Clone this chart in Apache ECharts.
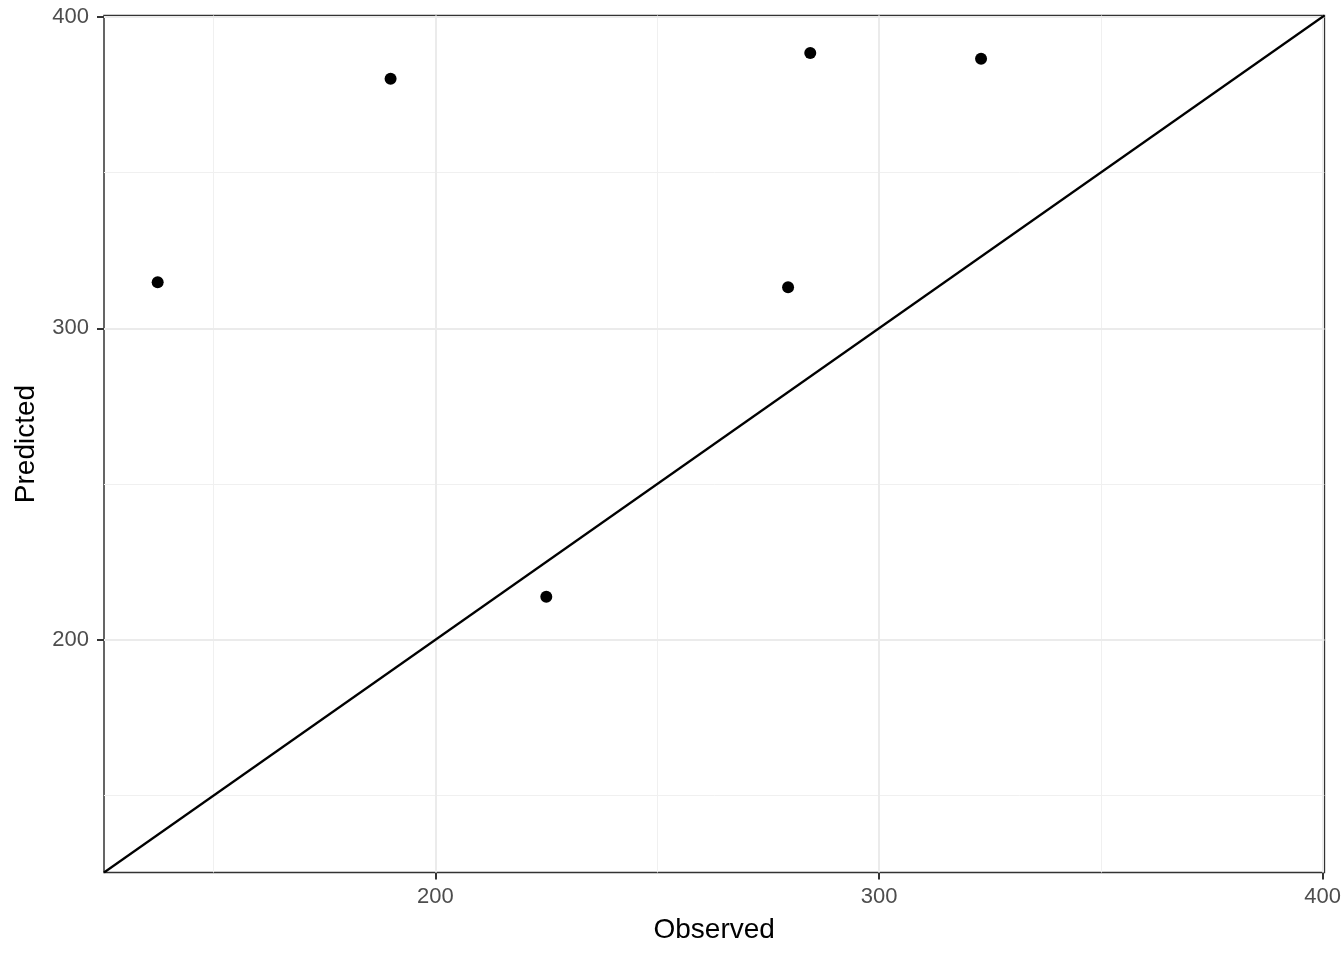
<!DOCTYPE html>
<html>
<head>
<meta charset="utf-8">
<script src="https://cdn.jsdelivr.net/npm/echarts@6/dist/echarts.min.js"></script>
<style>
  html, body { margin: 0; padding: 0; background: #fff; }
  #chart { width: 1344px; height: 960px; }
</style>
</head>
<body>
<div id="chart"></div>
<script>
// observed vs predicted
var observed  = [137.4, 189.9, 225.0, 279.5, 284.5, 323.0];
var predicted = [314.8, 380.1, 213.8, 313.2, 388.4, 386.5];

var axisMin = 125.3;
var axisMax = 400.4;
var majorTicks = [200, 300, 400];
var minorTicks = [150, 250, 350];

var points = [];
for (var i = 0; i < observed.length; i++) {
  points.push([observed[i], predicted[i]]);
}

var gridLines = [];
minorTicks.forEach(function (v) {
  gridLines.push({ xAxis: v, lineStyle: { color: '#f0f0f0', width: 1, type: 'solid' } });
  gridLines.push({ yAxis: v, lineStyle: { color: '#f0f0f0', width: 1, type: 'solid' } });
});
majorTicks.forEach(function (v) {
  gridLines.push({ xAxis: v, lineStyle: { color: '#ebebeb', width: 2, type: 'solid' } });
  gridLines.push({ yAxis: v, lineStyle: { color: '#ebebeb', width: 2, type: 'solid' } });
});

var font = 'Liberation Sans, Arial, Helvetica, sans-serif';

function makeAxis(name, gap, labelMargin) {
  return {
    type: 'value',
    min: axisMin,
    max: axisMax,
    name: name,
    nameLocation: 'middle',
    nameGap: gap,
    nameTextStyle: { color: '#000', fontSize: 28, fontFamily: font },
    axisLine: { show: false },
    axisTick: { show: true, customValues: majorTicks, length: 7, lineStyle: { color: '#333', width: 2 } },
    axisLabel: { customValues: majorTicks, color: '#4d4d4d', fontSize: 22, fontFamily: font, margin: labelMargin },
    splitLine: { show: false }
  };
}

var chart = echarts.init(document.getElementById('chart'));
var option = {
  backgroundColor: '#fff',
  animation: false,
  grid: {
    left: 104, right: 16.5, top: 15.5, bottom: 87.5,
    show: true, borderColor: '#333', borderWidth: 1.5, backgroundColor: 'transparent'
  },
  xAxis: makeAxis('Observed', 44, 13),
  yAxis: makeAxis('Predicted', 64, 15),
  series: [
    {
      type: 'line',
      data: [],
      silent: true,
      z: 1,
      markLine: {
        silent: true,
        z: 1,
        symbol: 'none',
        label: { show: false },
        emphasis: { disabled: true },
        data: gridLines
      }
    },
    {
      type: 'line',
      data: [[axisMin, axisMin], [axisMax, axisMax]],
      symbol: 'none',
      silent: true,
      lineStyle: { color: '#000', width: 2.2 },
      z: 10
    },
    {
      type: 'scatter',
      data: points,
      symbolSize: 12,
      itemStyle: { color: '#000', opacity: 1 },
      z: 11
    }
  ]
};
chart.setOption(option);
</script>
</body>
</html>
